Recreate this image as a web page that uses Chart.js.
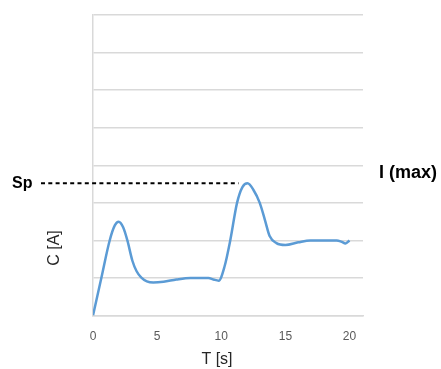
<!DOCTYPE html>
<html><head><meta charset="utf-8">
<script src="https://cdn.jsdelivr.net/npm/chart.js@4/dist/chart.umd.min.js"></script>
<style>html,body{margin:0;padding:0;background:#fff}#wrap{width:441px;height:369px}</style>
</head><body><div id="wrap"><canvas id="c" width="441" height="369"></canvas></div>
<script>
const timeValues = [0, 0.65, 1.3, 1.7, 2.0, 2.35, 2.68, 3.07, 3.4, 3.77, 4.2, 4.7, 5.5, 6.5, 7.6, 9.0, 9.4, 9.8, 10.25, 10.7, 11.23, 11.65, 12.05, 12.5, 13.0, 13.4, 13.77, 14.3, 15.0, 16.0, 16.95, 19.0, 19.35, 19.69, 20];
const currentValues = [0, 1.0, 2.0, 2.4, 2.5, 2.35, 2.0, 1.46, 1.18, 1.01, 0.91, 0.88, 0.9, 0.96, 1.0, 1.0, 0.96, 0.93, 1.3, 2.0, 3.0, 3.42, 3.52, 3.35, 3.0, 2.55, 2.12, 1.93, 1.88, 1.95, 2.0, 2.0, 1.97, 1.92, 2.0];
const xTicks = [0, 5, 10, 15, 20];
const labels = { x: 'T [s]', y: 'C [A]', sp: 'Sp', max: 'I (max)' };

const points = timeValues.map((t, i) => ({ x: t, y: currentValues[i] }));
const peakIdx = currentValues.indexOf(Math.max(...currentValues));

const annot = {
  id: 'annot',
  afterDatasetsDraw(chart) {
    const ctx = chart.ctx, xs = chart.scales.x, ys = chart.scales.y;
    const py = ys.getPixelForValue(currentValues[peakIdx]);
    const px = xs.getPixelForValue(timeValues[peakIdx]);
    ctx.save();
    ctx.strokeStyle = '#000'; ctx.lineWidth = 2; ctx.setLineDash([4, 3.3]);
    ctx.beginPath(); ctx.moveTo(41, py); ctx.lineTo(px - 9, py); ctx.stroke();
    ctx.setLineDash([]);
    ctx.fillStyle = '#000';
    ctx.textBaseline = 'middle'; ctx.textAlign = 'left';
    ctx.font = 'bold 16px "Liberation Sans", Arial, sans-serif';
    ctx.fillText(labels.sp, 12, py);
    ctx.font = 'bold 18px "Liberation Sans", Arial, sans-serif';
    ctx.fillText(labels.max, 379, py - 10);
    ctx.font = '16px "Liberation Sans", Arial, sans-serif';
    ctx.fillStyle = '#262626';
    ctx.textAlign = 'center';
    ctx.fillText(labels.x, 217, 360);
    ctx.translate(55, 248); ctx.rotate(-Math.PI / 2);
    ctx.fillText(labels.y, 0, 0);
    ctx.restore();
  }
};

new Chart(document.getElementById('c'), {
  type: 'line',
  data: { datasets: [{ data: points, borderColor: '#5B9BD5', borderWidth: 2.5, pointRadius: 0, cubicInterpolationMode: 'monotone', fill: false }] },
  options: {
    responsive: false, animation: false, devicePixelRatio: 1,
    layout: { padding: { left: 93, right: 78, top: 15, bottom: 11 } },
    plugins: { legend: { display: false }, tooltip: { enabled: false } },
    scales: {
      x: { type: 'linear', min: 0, max: 21.05,
        afterBuildTicks: s => { s.ticks = xTicks.map(v => ({ value: v })); },
        grid: { display: false, drawTicks: false },
        border: { display: true, color: '#d9d9d9', width: 1.5 },
        ticks: { padding: 14, color: '#595959', font: { size: 12, family: '"Liberation Sans", Arial, sans-serif' } } },
      y: { min: 0, max: 8,
        ticks: { display: false, stepSize: 1 },
        grid: { color: '#d9d9d9', lineWidth: 1.5, drawTicks: false },
        border: { display: true, color: '#d9d9d9', width: 1.5 } }
    }
  },
  plugins: [annot]
});
</script></body></html>
